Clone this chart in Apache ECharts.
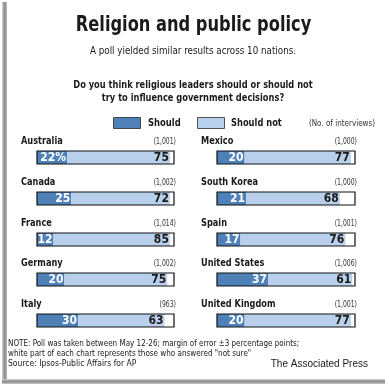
<!DOCTYPE html>
<html><head><meta charset="utf-8">
<script src="https://cdn.jsdelivr.net/npm/echarts@6/dist/echarts.min.js"></script>
<style>html,body{margin:0;padding:0;background:#fff}#c{width:389px;height:387px}</style>
</head><body><div id="c"></div>
<script>
const countries = ['Australia','Canada','France','Germany','Italy','Mexico','South Korea','Spain','United States','United Kingdom'];
const shouldVals = [22,25,12,20,30,20,21,17,37,20];
const shouldNotVals = [75,72,85,75,63,77,68,76,61,77];
const interviews = ['(1,001)','(1,002)','(1,014)','(1,002)','(963)','(1,000)','(1,000)','(1,001)','(1,006)','(1,001)'];
const seriesNames = ['Should','Should not'];

const NARROW = '"DejaVu Sans Condensed", sans-serif';
const DARK = '#4d81b7';
const LIGHT = '#b9d0ec';

const chart = echarts.init(document.getElementById('c'), null, {renderer:'canvas'});
const grids=[], xAxes=[], yAxes=[], series=[], graphics=[];

function txt(x, y, text, font, align, sx, fill){
  graphics.push({type:'text', x:x, y:y, scaleX:sx||1, originX:0, originY:0,
    style:{text:text, font:font, fill:fill||'#1a1a1a', textAlign:align||'left', textVerticalAlign:'middle'}});
}

countries.forEach((name,i)=>{
  const col = i<5?0:1, row = i%5;
  const left = col===0?37:217, width = col===0?137:138;
  const top = Math.round(151 + row*40.75), height = 13;
  grids.push({left, top, width, height, show:true, backgroundColor:'transparent', borderColor:'#111', borderWidth:1.2, z:3, containLabel:false});
  xAxes.push({type:'value', gridIndex:i, min:0, max:100, show:false});
  yAxes.push({type:'category', gridIndex:i, data:[name], show:false});
  series.push({
    name:seriesNames[0], type:'bar', stack:'s'+i, xAxisIndex:i, yAxisIndex:i, barWidth:'100%',
    data:[shouldVals[i]], itemStyle:{color:DARK},
    label:{show:true, position:'insideRight', distance:1, color:'#fff', fontWeight:'bold', fontSize:12, fontFamily:NARROW,
      formatter: i===0 ? '{c}%' : '{c}'}
  });
  series.push({
    name:seriesNames[1], type:'bar', stack:'s'+i, xAxisIndex:i, yAxisIndex:i, barWidth:'100%',
    data:[shouldNotVals[i]], itemStyle:{color:LIGHT},
    label:{show:true, position:'insideRight', distance:1, color:'#1a1a1a', fontWeight:'bold', fontSize:12, fontFamily:NARROW}
  });
  txt(left-16, top-9.5, name, 'bold 11px '+NARROW, 'left', 0.83);
  txt(left+width+2, top-9.5, interviews[i], '8.5px '+NARROW, 'right', 0.8, '#333');
});

// frame shadow
graphics.push({type:'rect', shape:{x:2,y:2,width:5,height:382}, style:{fill:new echarts.graphic.LinearGradient(0,0,1,0,[{offset:0,color:'#d8d8d8'},{offset:0.5,color:'#8c8c8c'},{offset:1,color:'#b8b8b8'}])}});
graphics.push({type:'rect', shape:{x:2,y:379,width:383,height:5}, style:{fill:new echarts.graphic.LinearGradient(0,0,0,1,[{offset:0,color:'#d0d0d0'},{offset:0.5,color:'#8c8c8c'},{offset:1,color:'#c8c8c8'}])}});

// titles
txt(193.5, 26, 'Religion and public policy', 'bold 21px '+NARROW, 'center', 0.86);
txt(193, 51, 'A poll yielded similar results across 10 nations.', '11px '+NARROW, 'center', 0.885);
txt(193, 85, 'Do you think religious leaders should or should not', 'bold 11px '+NARROW, 'center', 0.836);
txt(193, 98, 'try to influence government decisions?', 'bold 11px '+NARROW, 'center', 0.836);

// legend
graphics.push({type:'rect', shape:{x:113.5,y:117.5,width:27,height:11}, style:{fill:DARK, stroke:'#2a2a2a', lineWidth:0.8}});
txt(148, 123, seriesNames[0], 'bold 11px '+NARROW, 'left', 0.85);
graphics.push({type:'rect', shape:{x:197.5,y:117.5,width:27,height:11}, style:{fill:LIGHT, stroke:'#2a2a2a', lineWidth:0.8}});
txt(231, 123, seriesNames[1], 'bold 11px '+NARROW, 'left', 0.84);
txt(375, 124, '(No. of interviews)', '8.5px '+NARROW, 'right', 0.94, '#333');

// footer
txt(8, 344, 'NOTE: Poll was taken between May 12-26; margin of error \u00b13 percentage points;', '8.5px '+NARROW, 'left', 0.94);
txt(8, 354, 'white part of each chart represents those who answered "not sure"', '8.5px '+NARROW, 'left', 0.945);
txt(8, 364, 'Source: Ipsos-Public Affairs for AP', '8.5px '+NARROW, 'left', 1);
txt(368, 364, 'The Associated Press', '10px "Liberation Sans", Arial, sans-serif', 'right', 1);

chart.setOption({
  animation:false,
  backgroundColor:'#fff',
  grid:grids, xAxis:xAxes, yAxis:yAxes, series:series,
  graphic:{elements:graphics}
});
</script></body></html>
